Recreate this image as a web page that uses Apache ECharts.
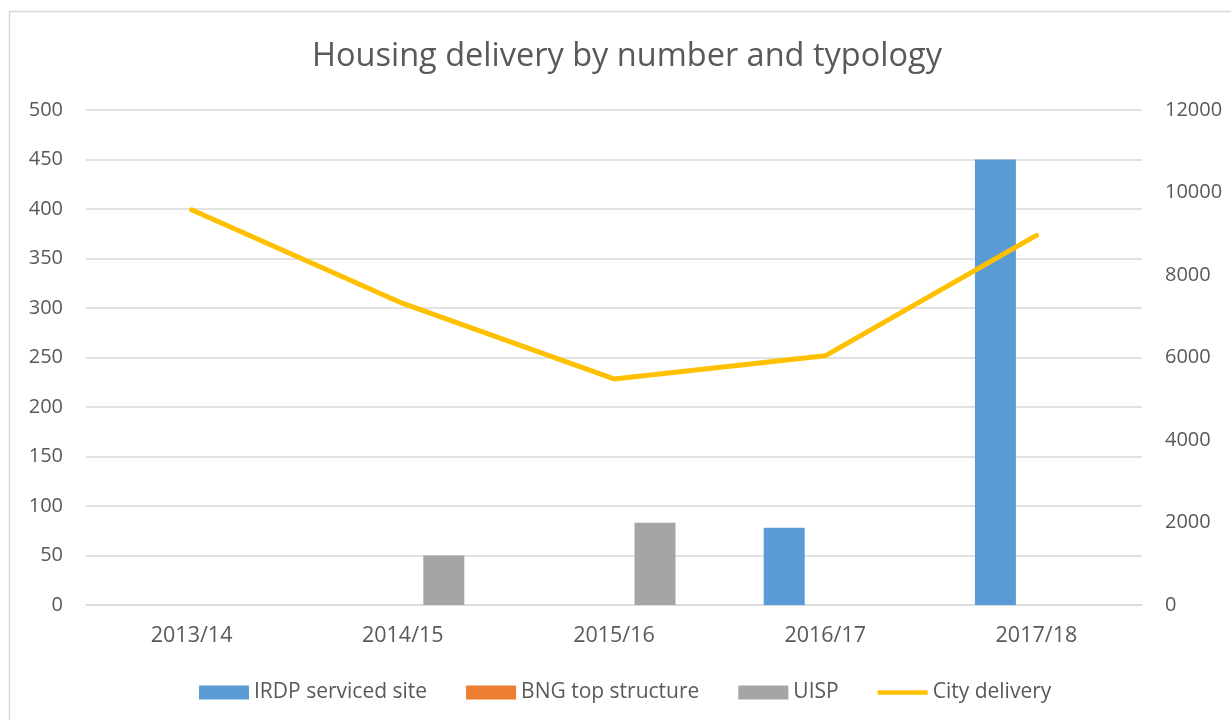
<!DOCTYPE html>
<html>
<head>
<meta charset="utf-8">
<script src="https://cdn.jsdelivr.net/npm/echarts@6/dist/echarts.min.js"></script>
<style>
  html, body { margin: 0; padding: 0; background: #fff; }
  #chart { width: 1231px; height: 720px; }
</style>
</head>
<body>
<div id="chart"></div>
<script>
// Financial years on the category axis
const years = ['2013/14', '2014/15', '2015/16', '2016/17', '2017/18'];

// Units delivered per typology (left axis)
const irdpServicedSite = [0, 0, 0, 78, 450];
const bngTopStructure = [0, 0, 0, 0, 0];
const uisp = [0, 50, 83, 0, 0];

// Total city delivery (right axis)
const cityDelivery = [9580, 7310, 5480, 6040, 8960];

// Axis ranges
const leftMax = 500, leftStep = 50;
const rightMax = 12000, rightStep = 2000;

const font = "'Open Sans', 'Noto Sans', sans-serif";
const textGrey = '#595959';
const gridGrey = '#D9D9D9';

const chart = echarts.init(document.getElementById('chart'), null, { renderer: 'canvas' });

const barSeries = (name, data, color) => ({
  name, type: 'bar', yAxisIndex: 0, data,
  barWidth: 41, barGap: '0%',
  itemStyle: { color },
  emphasis: { disabled: true }
});

chart.setOption({
  animation: false,
  textStyle: { fontFamily: font },
  graphic: [{
    type: 'rect', silent: true, z: -10,
    shape: { x: 9.5, y: 11.5, width: 1400, height: 900 },
    style: { fill: '#fff', stroke: gridGrey, lineWidth: 1.5 }
  }],
  title: {
    text: 'Housing delivery by number and typology',
    left: 312, top: 40, padding: 0,
    textStyle: { fontFamily: font, fontSize: 32.5, fontWeight: 'normal', color: textGrey }
  },
  grid: { left: 86, right: 89, top: 110, bottom: 115, containLabel: false },
  legend: {
    top: 682, left: 199, padding: 0,
    itemWidth: 50, itemHeight: 14, itemGap: 39,
    textStyle: { fontFamily: font, fontSize: 21, color: textGrey },
    data: [
      { name: 'IRDP serviced site', icon: 'rect' },
      { name: 'BNG top structure', icon: 'rect' },
      { name: 'UISP', icon: 'rect' },
      { name: 'City delivery', icon: 'path://M0,0 L56,0 L56,5 L0,5 Z', itemStyle: { color: '#FFC000' } }
    ]
  },
  xAxis: {
    type: 'category', data: years,
    axisLine: { show: true, lineStyle: { color: gridGrey, width: 1.5 } },
    axisTick: { show: false },
    axisLabel: { margin: 20, fontSize: 21.5, color: textGrey, fontFamily: font }
  },
  yAxis: [{
    type: 'value', min: 0, max: leftMax, interval: leftStep,
    axisLine: { show: false }, axisTick: { show: false },
    splitLine: { lineStyle: { color: gridGrey, width: 1.5 } },
    axisLabel: { margin: 23, fontSize: 20, color: textGrey, fontFamily: font }
  }, {
    type: 'value', min: 0, max: rightMax, interval: rightStep,
    axisLine: { show: false }, axisTick: { show: false },
    splitLine: { show: false },
    axisLabel: { margin: 23, fontSize: 20, color: textGrey, fontFamily: font, formatter: v => String(v) }
  }],
  series: [
    barSeries('IRDP serviced site', irdpServicedSite, '#5B9BD5'),
    barSeries('BNG top structure', bngTopStructure, '#ED7D31'),
    barSeries('UISP', uisp, '#A5A5A5'),
    {
      name: 'City delivery', type: 'line', yAxisIndex: 1, data: cityDelivery,
      showSymbol: false, symbol: 'none',
      lineStyle: { color: '#FFC000', width: 5, cap: 'round', join: 'round' },
      itemStyle: { color: '#FFC000' },
      emphasis: { disabled: true }
    }
  ]
});
</script>
</body>
</html>
